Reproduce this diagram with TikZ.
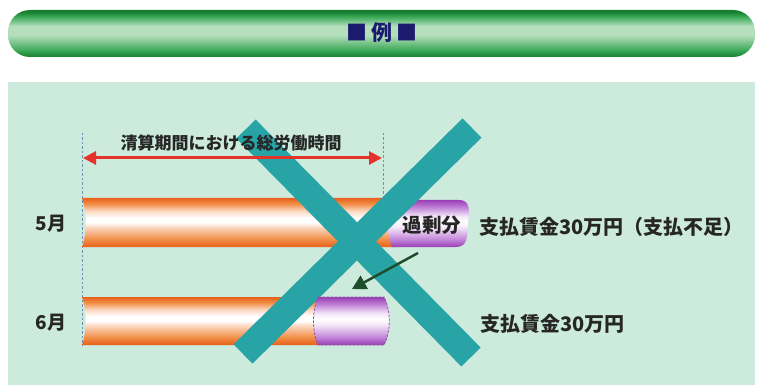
\documentclass[tikz,border=0pt]{standalone}
\usepackage{fontspec}
\setmainfont{Noto Sans CJK JP}
\usetikzlibrary{arrows.meta}
\definecolor{panel}{HTML}{CDEBDC}
\definecolor{teal}{HTML}{28A3A6}
\definecolor{navy}{HTML}{1A1A6E}
\definecolor{redarr}{HTML}{E5322A}
\definecolor{darrow}{HTML}{1E4D2B}
\definecolor{dashc}{HTML}{6F8FB8}
\definecolor{txt}{HTML}{262626}
\definecolor{orD}{HTML}{E8601A}
\definecolor{orM}{HTML}{F28F48}
\definecolor{orL}{HTML}{FBD6BE}
\definecolor{puD}{HTML}{9A3EB6}
\definecolor{puM}{HTML}{C284D8}
\definecolor{puL}{HTML}{F3E6F8}
\definecolor{grD}{HTML}{177F30}
\definecolor{grM}{HTML}{3AA856}
\definecolor{grL}{HTML}{B4DEBC}
\pgfdeclareverticalshading{orbar}{100bp}{color(0bp)=(orD); color(25bp)=(orD); color(33bp)=(orM); color(45bp)=(orL); color(50bp)=(white); color(55bp)=(white); color(62bp)=(orL); color(69bp)=(orM); color(75bp)=(orD); color(100bp)=(orD)}
\pgfdeclareverticalshading{pubar}{100bp}{color(0bp)=(puD); color(25bp)=(puD); color(33bp)=(puM); color(46bp)=(puL); color(52bp)=(white); color(58bp)=(puL); color(67bp)=(puM); color(75bp)=(puD); color(100bp)=(puD)}
\pgfdeclareverticalshading{banner}{100bp}{color(0bp)=(grD); color(25bp)=(grD); color(32bp)=(grM); color(48bp)=(grL); color(58bp)=(grL); color(68bp)=(grM); color(73bp)=(grD); color(75bp)=(grD); color(100bp)=(grD)}
\tikzset{
  xline/.style={draw=teal, line width=27pt, line cap=butt},
  guide/.style={draw=dashc, line width=0.9pt, dash pattern=on 2.5pt off 2pt},
  jlabel/.style={text=txt, font=\bfseries\fontsize{19}{19}\selectfont, inner sep=0pt},
  jbig/.style={text=txt, font=\bfseries\fontsize{20}{20}\selectfont, inner sep=0pt, anchor=west},
}
\begin{document}
\begin{tikzpicture}[x=1pt,y=-1pt]
\useasboundingbox (0,0) rectangle (761,385);
\fill[white] (0,0) rectangle (761,385);
% banner
\path[shading=banner, rounded corners=22pt] (8,10) rectangle (755,57);
\node[text=navy, font=\bfseries\fontsize{21}{21}\selectfont, inner sep=0pt] (title) at (382,33) {■\hspace{4pt}例\hspace{4pt}■};
% panel
\fill[panel] (8,82) rectangle (755,385);
% guides
\coordinate (gl1) at (82,133);
\coordinate (gl2) at (82,346);
\coordinate (gr1) at (383,133);
\coordinate (gr2) at (383,198);
\draw[guide] (gl1) -- (gl2);
\draw[guide] (gr1) -- (gr2);
% May bar
\path[shading=orbar] (82,198) .. controls (87,212) and (87,233) .. (82,247) -- (398,247) -- (398,198) -- cycle;
\path[shading=pubar] (394,200) -- (458,200) .. controls (467,200) and (469,204) .. (469,213) -- (467,236) .. controls (466,244) and (463,247) .. (455,247) -- (392,247) .. controls (386,232) and (386,215) .. (394,200) -- cycle;
% June bar
\path[shading=orbar] (82,297) .. controls (87,311) and (87,331) .. (82,345) -- (322,345) -- (322,297) -- cycle;
% big X
\coordinate (xa1) at (246,129);
\coordinate (xa2) at (471,357);
\coordinate (xb1) at (472,128);
\coordinate (xb2) at (243,354);
\draw[xline] (xa1) -- (xa2);
\draw[xline] (xb1) -- (xb2);
% June purple
\path[shading=pubar] (318,297) .. controls (312,310) and (312,332) .. (318,345) -- (384,345) .. controls (391,332) and (391,310) .. (384,297) -- cycle;
\draw[draw=puD!60!gray, line width=0.8pt, dash pattern=on 2.5pt off 1.5pt] (318,297) .. controls (312,310) and (312,332) .. (318,345) -- (384,345) .. controls (391,332) and (391,310) .. (384,297) -- cycle;
% dark green arrow
\coordinate (ga1) at (418,253);
\coordinate (ga2) at (352,289);
\draw[darrow, line width=2.5pt, -{Triangle[length=14pt,width=15pt]}] (ga1) -- (ga2);
% red double arrow
\coordinate (ra1) at (83,158);
\coordinate (ra2) at (382,158);
\draw[redarr, line width=3pt, {Triangle[length=13pt,width=13pt]}-{Triangle[length=13pt,width=13pt]}] (ra1) -- (ra2);
\node[text=txt, font=\bfseries\fontsize{17}{17}\selectfont, inner sep=0pt] (period) at (231,143) {清算期間における総労働時間};
% labels
\node[jlabel] (may) at (51,224) {5月};
\node[jlabel] (jun) at (51,323) {6月};
\node[text=txt, font=\bfseries\fontsize{19.5}{19.5}\selectfont, inner sep=0pt] (excess) at (432,225) {過剰分};
\node[jbig] (payMay) at (479,227) {支払賃金30万円（支払不足）};
\node[jbig] (payJun) at (480,324) {支払賃金30万円};
\end{tikzpicture}
\end{document}
